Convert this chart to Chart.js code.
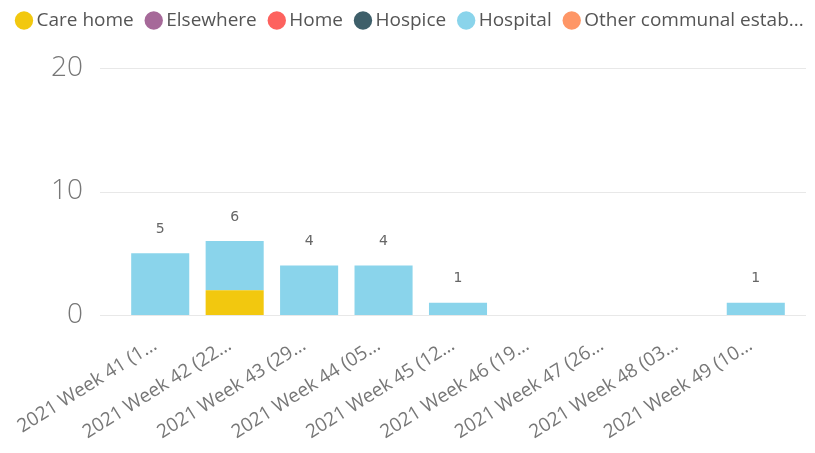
<!DOCTYPE html>
<html>
<head>
<meta charset="utf-8">
<script src="https://cdn.jsdelivr.net/npm/chart.js@4.4.0/dist/chart.umd.min.js"></script>
<style>
  html, body { margin: 0; padding: 0; background: #fff; }
  #wrap { width: 815px; height: 453px; }
</style>
</head>
<body>
<div id="wrap"><canvas id="chart" width="815" height="453"></canvas></div>
<script>
// Dati del grafico
const weeks = [
    '2021 Week 41 (1…', '2021 Week 42 (22…', '2021 Week 43 (29…',
    '2021 Week 44 (05…', '2021 Week 45 (12…', '2021 Week 46 (19…',
    '2021 Week 47 (26…', '2021 Week 48 (03…', '2021 Week 49 (10…'
];
const careHome  = [0, 2, 0, 0, 0, 0, 0, 0, 0];
const elsewhere = [0, 0, 0, 0, 0, 0, 0, 0, 0];
const home      = [0, 0, 0, 0, 0, 0, 0, 0, 0];
const hospice   = [0, 0, 0, 0, 0, 0, 0, 0, 0];
const hospital  = [5, 4, 4, 4, 1, 0, 0, 0, 1];
const otherComm = [0, 0, 0, 0, 0, 0, 0, 0, 0];
const yTicks = [0, 10, 20];

const seriesNames = ['Care home', 'Elsewhere', 'Home', 'Hospice', 'Hospital', 'Other communal estab...'];
const seriesData = [careHome, elsewhere, home, hospice, hospital, otherComm];
const seriesColors = ['#F2C80F', '#A66999', '#FD625E', '#3E5F6A', '#8AD4EB', '#FE9666'];

// Griglia orizzontale estesa (come in Power BI)
const gridPlugin = {
    id: 'wideGrid',
    beforeDatasetsDraw(chart) {
        const ctx = chart.ctx;
        const y = chart.scales.y;
        ctx.save();
        ctx.strokeStyle = '#e8e8e8';
        ctx.lineWidth = 1;
        yTicks.forEach(v => {
            const py = Math.round(y.getPixelForValue(v)) + 0.5;
            ctx.beginPath();
            ctx.moveTo(100, py);
            ctx.lineTo(806, py);
            ctx.stroke();
        });
        ctx.restore();
    }
};

// Etichette dei totali sopra ogni colonna
const totalsPlugin = {
    id: 'totals',
    afterDatasetsDraw(chart) {
        const ctx = chart.ctx;
        const x = chart.scales.x;
        const y = chart.scales.y;
        ctx.save();
        ctx.font = '14px "DejaVu Sans", sans-serif';
        ctx.fillStyle = '#666';
        ctx.textAlign = 'center';
        ctx.textBaseline = 'middle';
        weeks.forEach((w, i) => {
            const total = seriesData.reduce((s, arr) => s + arr[i], 0);
            if (total > 0) {
                ctx.fillText(String(total), x.getPixelForValue(i), y.getPixelForValue(total) - 24);
            }
        });
        ctx.restore();
    }
};

// Legenda: una sola riga, altezza fissa e posizione in alto
const legendTweak = {
    id: 'legendTweak',
    beforeUpdate(chart) {
        const lg = chart.legend;
        if (lg && !lg._tweaked) {
            const fit = lg.fit.bind(lg);
            lg.fit = function () {
                const w = this.maxWidth;
                this.maxWidth = 2000;
                fit();
                this.maxWidth = w;
                this.width = w;
                this.height = 68;
            };
            lg._tweaked = true;
        }
    },
    afterLayout(chart) {
        if (chart.legend) {
            chart.legend.top = -6;
            chart.legend.left = 4;
            chart.legend.right = 2000;
        }
    }
};

new Chart(document.getElementById('chart'), {
    type: 'bar',
    data: {
        labels: weeks,
        datasets: seriesNames.map((name, i) => ({
            label: name,
            data: seriesData[i],
            backgroundColor: seriesColors[i],
            borderWidth: 0,
            barPercentage: 0.78,
            categoryPercentage: 1
        }))
    },
    options: {
        responsive: false,
        animation: false,
        layout: { padding: { left: 2, right: 22, top: 0, bottom: 0 } },
        plugins: {
            tooltip: { enabled: false },
            legend: {
                position: 'top',
                align: 'start',
                labels: {
                    usePointStyle: true,
                    pointStyle: 'circle',
                    boxWidth: 6,
                    boxHeight: 13,
                    padding: 17,
                    color: '#555',
                    font: { family: '"Open Sans", sans-serif', size: 19 }
                }
            }
        },
        scales: {
            x: {
                stacked: true,
                grid: { display: false },
                border: { display: false },
                ticks: {
                    autoSkip: false,
                    maxRotation: 32,
                    minRotation: 32,
                    color: '#777',
                    padding: 11,
                    labelOffset: -5,
                    font: { family: '"Open Sans", sans-serif', size: 19 }
                },
                afterFit(scale) { scale.height = 138; }
            },
            y: {
                stacked: true,
                min: 0,
                max: 20,
                grid: { display: false, drawTicks: false },
                border: { display: false },
                afterBuildTicks(scale) { scale.ticks = yTicks.map(v => ({ value: v })); },
                ticks: {
                    color: '#777',
                    padding: 40,
                    font: { family: '"Open Sans", sans-serif', size: 28, weight: '300' }
                },
                afterFit(scale) { scale.width = 121; }
            }
        }
    },
    plugins: [legendTweak, gridPlugin, totalsPlugin]
});
</script>
</body>
</html>
